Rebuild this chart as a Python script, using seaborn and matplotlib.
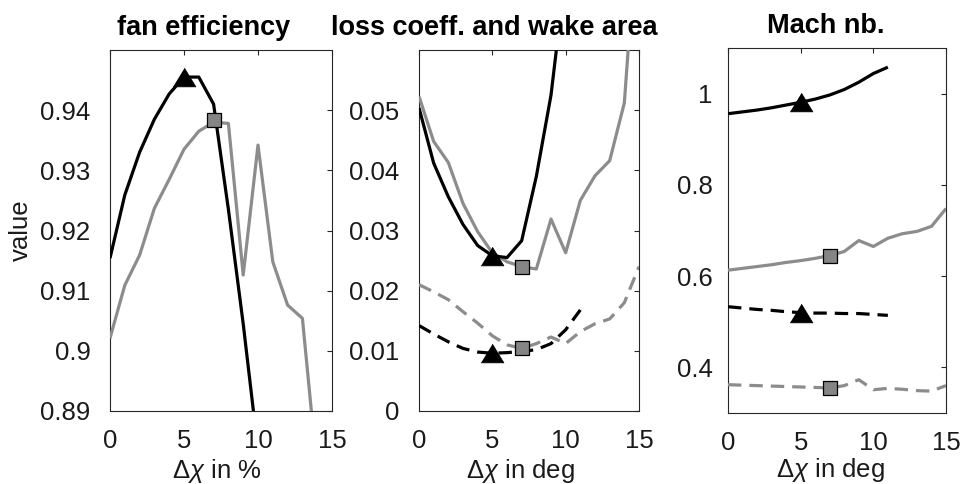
import matplotlib
matplotlib.use("Agg")
import matplotlib.pyplot as plt
import seaborn as sns
import pandas as pd
import numpy as np

# ---------------- data ----------------
# Panel 1: fan efficiency vs delta chi in %
fan_x_black = [0, 1, 2, 3, 4, 5, 6, 7, 8, 9, 10]
fan_y_black = [0.9154, 0.9259, 0.9330, 0.9385, 0.9427, 0.9455, 0.9455, 0.9410, 0.9235, 0.9045, 0.8835]
fan_x_gray = [0, 1, 2, 3, 4, 5, 6, 7, 8, 9, 10, 11, 12, 13, 14]
fan_y_gray = [0.9021, 0.9109, 0.9159, 0.9237, 0.9285, 0.9335, 0.9365, 0.9380, 0.9378, 0.9126,
              0.9342, 0.9148, 0.9076, 0.9054, 0.8800]
fan_tri = (5, 0.9455)
fan_sq = (7, 0.9384)

# Panel 2: loss coefficient (solid) and wake area (dashed)
loss_x_black = [0, 1, 2, 3, 4, 5, 6, 7, 8, 9, 10]
loss_y_black = [0.0504, 0.0412, 0.0356, 0.0310, 0.0275, 0.0258, 0.0255, 0.0283, 0.0390, 0.0525, 0.0730]
loss_x_gray = [0, 1, 2, 3, 4, 5, 6, 7, 8, 9, 10, 11, 12, 13, 14, 15]
loss_y_gray = [0.0523, 0.0448, 0.0413, 0.0345, 0.0298, 0.0263, 0.0248, 0.0240, 0.0236, 0.0319,
               0.0263, 0.0350, 0.0391, 0.0416, 0.0512, 0.0850]
wake_x_black = [0, 1, 2, 3, 4, 5, 6, 7, 8, 9, 10, 11]
wake_y_black = [0.0142, 0.0128, 0.0115, 0.0104, 0.0098, 0.0096, 0.0097, 0.0099, 0.0102, 0.0112, 0.0135, 0.0168]
wake_x_gray = [0, 1, 2, 3, 4, 5, 6, 7, 8, 9, 10, 11, 12, 13, 14, 15]
wake_y_gray = [0.0210, 0.0198, 0.0185, 0.0165, 0.0146, 0.0125, 0.0110, 0.0104, 0.0112, 0.0123,
               0.0112, 0.0132, 0.0145, 0.0153, 0.0180, 0.0240]
loss_tri = [(5, 0.0257), (5, 0.0096)]
loss_sq = [(7, 0.0239), (7, 0.0104)]

# Panel 3: Mach number
mach_x_black = [0, 1, 2, 3, 4, 5, 6, 7, 8, 9, 10, 11]
mach_y_black = [0.956, 0.960, 0.964, 0.969, 0.975, 0.981, 0.988, 0.997, 1.009, 1.025, 1.044, 1.058]
mach_x_gray = [0, 1, 2, 3, 4, 5, 6, 7, 8, 9, 10, 11, 12, 13, 14, 15]
mach_y_gray = [0.613, 0.617, 0.621, 0.625, 0.630, 0.634, 0.639, 0.645, 0.654, 0.678,
               0.665, 0.683, 0.693, 0.698, 0.709, 0.748]
mach2_x_black = [0, 1, 2, 3, 4, 5, 6, 7, 8, 9, 10, 11]
mach2_y_black = [0.533, 0.530, 0.527, 0.525, 0.522, 0.520, 0.519, 0.519, 0.518, 0.518, 0.516, 0.514]
mach2_x_gray = [0, 1, 2, 3, 4, 5, 6, 7, 8, 9, 10, 11, 12, 13, 14, 15]
mach2_y_gray = [0.362, 0.361, 0.360, 0.359, 0.358, 0.357, 0.356, 0.355, 0.360, 0.373,
                0.351, 0.354, 0.352, 0.349, 0.348, 0.360]
mach_tri = [(5, 0.981), (5, 0.519)]
mach_sq = [(7, 0.645), (7, 0.355)]

titles = ["fan efficiency", "loss coeff. and wake area", "Mach nb."]
xlabels = [r"$\Delta\chi$ in %", r"$\Delta\chi$ in deg", r"$\Delta\chi$ in deg"]
ylabel = "value"
xticks = [0, 5, 10, 15]
xticklabels = ["0", "5", "10", "15"]
yticks1 = [0.89, 0.90, 0.91, 0.92, 0.93, 0.94]
yticklabels1 = ["0.89", "0.9", "0.91", "0.92", "0.93", "0.94"]
yticks2 = [0, 0.01, 0.02, 0.03, 0.04, 0.05]
yticklabels2 = ["0", "0.01", "0.02", "0.03", "0.04", "0.05"]
yticks3 = [0.4, 0.6, 0.8, 1.0]
yticklabels3 = ["0.4", "0.6", "0.8", "1"]

# ---------------- style ----------------
sns.set_style("white")
plt.rcParams["font.family"] = ["Liberation Sans", "DejaVu Sans"]
plt.rcParams["mathtext.fontset"] = "custom"
plt.rcParams["mathtext.rm"] = "Liberation Sans"
plt.rcParams["mathtext.it"] = "Liberation Sans:italic"

BLACK = "#000000"
GRAY = "#8c8c8c"
SQFACE = "#858585"
SPINE = "#262626"
LW = 2.3
DASH = (4.2, 2.5)
FS = 18.5
TRI = [(-1.0, -0.82), (1.0, -0.82), (0.0, 0.82)]

fig = plt.figure(figsize=(9.62, 4.84), dpi=100)
W, H = 962.0, 484.0


def make_ax(left, right, top, bottom):
    return fig.add_axes([left / W, 1 - bottom / H, (right - left) / W, (bottom - top) / H])


ax1 = make_ax(110, 332, 50, 411)
ax2 = make_ax(419, 639, 50, 411)
ax3 = make_ax(728, 946, 48, 413)


def line(ax, x, y, color, dashed=False):
    sns.lineplot(x=x, y=y, color=color, linewidth=LW, estimator=None, ax=ax, zorder=3)
    ln = ax.lines[-1]
    ln.set_solid_capstyle("butt")
    if dashed:
        ln.set_dashes(DASH)
        ln.set_dash_capstyle("butt")


def tri(ax, pts):
    sns.scatterplot(x=[p[0] for p in pts], y=[p[1] for p in pts], marker=TRI, s=270,
                    color=BLACK, edgecolor=BLACK, linewidth=0.5, ax=ax, zorder=5)


def sq(ax, pts):
    sns.scatterplot(x=[p[0] for p in pts], y=[p[1] for p in pts], marker="s", s=115,
                    color=SQFACE, edgecolor=BLACK, linewidth=0.9, ax=ax, zorder=5)


# Panel 1
line(ax1, fan_x_gray, fan_y_gray, GRAY)
line(ax1, fan_x_black, fan_y_black, BLACK)
tri(ax1, [fan_tri])
sq(ax1, [fan_sq])
ax1.set_ylim(0.89, 0.95)
ax1.set_yticks(yticks1)
ax1.set_yticklabels(yticklabels1)

# Panel 2
line(ax2, loss_x_gray, loss_y_gray, GRAY)
line(ax2, wake_x_gray, wake_y_gray, GRAY, dashed=True)
line(ax2, loss_x_black, loss_y_black, BLACK)
line(ax2, wake_x_black, wake_y_black, BLACK, dashed=True)
tri(ax2, loss_tri)
sq(ax2, loss_sq)
ax2.set_ylim(0, 0.06)
ax2.set_yticks(yticks2)
ax2.set_yticklabels(yticklabels2)

# Panel 3
line(ax3, mach_x_gray, mach_y_gray, GRAY)
line(ax3, mach2_x_gray, mach2_y_gray, GRAY, dashed=True)
line(ax3, mach_x_black, mach_y_black, BLACK)
line(ax3, mach2_x_black, mach2_y_black, BLACK, dashed=True)
tri(ax3, mach_tri)
sq(ax3, mach_sq)
ax3.set_ylim(0.3, 1.1)
ax3.set_yticks(yticks3)
ax3.set_yticklabels(yticklabels3)

title_x = [0.42, 0.34, 0.45]
xlabel_x = [0.48, 0.46, 0.47]
xlabel_y = [-0.128, -0.128, -0.117]
ypads = [14, 14, 11]
for ax, t, tx, xl, xlx, xly, yp in zip([ax1, ax2, ax3], titles, title_x, xlabels, xlabel_x,
                                        xlabel_y, ypads):
    ax.set_xlim(0, 15)
    ax.set_xticks(xticks)
    ax.set_xticklabels(xticklabels)
    for s in ax.spines.values():
        s.set_visible(True)
        s.set_color(SPINE)
        s.set_linewidth(0.8)
    ax.tick_params(axis="both", direction="in", length=3.6, width=0.8, color=SPINE,
                   top=True, right=True, labelsize=FS, labelcolor="#1a1a1a")
    ax.tick_params(axis="x", pad=13)
    ax.tick_params(axis="y", pad=yp)
    ax.text(tx, 1.042, t, transform=ax.transAxes, ha="center", va="baseline",
            fontsize=19.5, fontweight="bold", color="black")
    ax.set_xlabel(xl, fontsize=FS, color="#1a1a1a")
    ax.xaxis.set_label_coords(xlx, xly)
    ax.set_ylabel("")

ax1.set_ylabel(ylabel, fontsize=FS, color="#1a1a1a")
ax1.yaxis.set_label_coords(-0.347, 0.5)

fig.savefig("out.png", dpi=100, facecolor="white")
